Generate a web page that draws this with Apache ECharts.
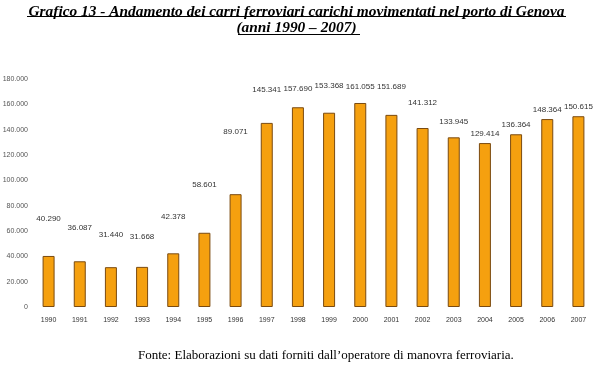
<!DOCTYPE html>
<html><head><meta charset="utf-8">
<script src="https://cdn.jsdelivr.net/npm/echarts@6/dist/echarts.min.js"></script>
<style>html,body{margin:0;padding:0;background:#fff}#c{width:593px;height:368px}</style>
</head><body><div id="c"></div>
<script>
const years = ['1990','1991','1992','1993','1994','1995','1996','1997','1998','1999','2000','2001','2002','2003','2004','2005','2006','2007'];
const wagons = [40290,36087,31440,31668,42378,58601,89071,145341,157690,153368,161055,151689,141312,133945,129414,136364,148364,150615];
const yTicks = [0,20000,40000,60000,80000,100000,120000,140000,160000,180000];

// label distance above each bar (layout only)
const labelGap = [33,29,28,26,33,44,58,29,14,23,12,24,21,12,5,5,5,5];

function fmt(v){ return String(v).replace(/\B(?=(\d{3})+(?!\d))/g,'.'); }

const chart = echarts.init(document.getElementById('c'), null, {renderer:'canvas'});
chart.setOption({
  backgroundColor:'#fff',
  animation:false,
  title:[
    {text:'Grafico 13 - Andamento dei carri ferroviari carichi movimentati nel porto di Genova', left:'center', top:0,
     textStyle:{fontFamily:'Liberation Serif', fontStyle:'italic', fontWeight:'bold', fontSize:15.4, color:'#000'}},
    {text:'(anni 1990 – 2007)', left:'center', top:16,
     textStyle:{fontFamily:'Liberation Serif', fontStyle:'italic', fontWeight:'bold', fontSize:15.4, color:'#000'}},
    {text:'Fonte: Elaborazioni su dati forniti dall\u2019operatore di manovra ferroviaria.', left:133, top:344,
     textStyle:{fontFamily:'Liberation Serif', fontWeight:'normal', fontSize:13, color:'#000'}}
  ],
  graphic:[
    {type:'line', shape:{x1:27,y1:16.5,x2:566,y2:16.5}, style:{stroke:'#000',lineWidth:1}},
    {type:'line', shape:{x1:238,y1:34.5,x2:360,y2:34.5}, style:{stroke:'#000',lineWidth:1}}
  ],
  grid:{left:33, top:79, width:561, height:228, containLabel:false, outerBoundsMode:'none'},
  xAxis:{type:'category', data:years,
    axisLine:{show:false}, axisTick:{show:false},
    axisLabel:{fontFamily:'Liberation Sans', fontSize:7, color:'#333', margin:10}},
  yAxis:{type:'value', min:0, max:180000, interval:20000,
    axisLine:{show:false}, axisTick:{show:false}, splitLine:{show:false},
    axisLabel:{fontFamily:'Liberation Sans', fontSize:7, color:'#555', margin:5,
      formatter:v=> yTicks.includes(v) ? fmt(v) : ''}},
  series:[{
    type:'bar', barWidth:12,
    data: wagons.map((v,i)=>({value:v, label:{distance:labelGap[i]}})),
    itemStyle:{color:'#F5A00F', borderColor:'#7a4a10', borderWidth:1},
    label:{show:true, position:'top', fontFamily:'Liberation Sans', fontSize:8, color:'#333',
      formatter:p=>fmt(p.value)}
  }]
});
</script></body></html>
